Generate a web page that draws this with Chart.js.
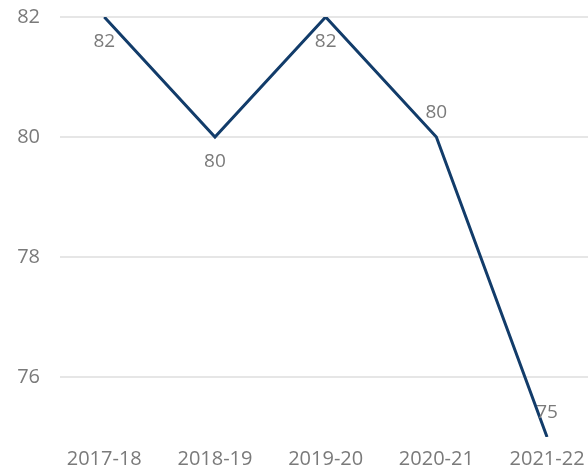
<!DOCTYPE html>
<html lang="en">
  <head>
    <meta charset="UTF-8" />
    <title>Chart</title>
    <style>
      html, body { margin: 0; padding: 0; background: #fff; }
      #wrap { width: 588px; height: 470px; }
    </style>
  </head>
  <body>
    <div id="wrap">
      <canvas id="myChart"></canvas>
    </div>

    <script src="https://cdn.jsdelivr.net/npm/chart.js"></script>
    <script>
      const years = ["2017-18", "2018-19", "2019-20", "2020-21", "2021-22"];
      const values = [82, 80, 82, 80, 75];
      const labelSide = ["below", "below", "below", "above", "above"];
      const yTicks = [76, 78, 80, 82];

      const textColor = "#7a7a7a";
      const fontFamily = "'Open Sans', 'Noto Sans', sans-serif";

      const valueLabels = {
        id: "valueLabels",
        afterDatasetsDraw(chart) {
          const ctx = chart.ctx;
          const meta = chart.getDatasetMeta(0);
          ctx.save();
          ctx.font = "19px " + fontFamily;
          ctx.fillStyle = textColor;
          ctx.textAlign = "center";
          ctx.textBaseline = "middle";
          meta.data.forEach((pt, i) => {
            const dy = labelSide[i] === "above" ? -24 : 25;
            ctx.fillText(String(values[i]), pt.x, pt.y + dy);
          });
          ctx.restore();
        },
      };

      const config = {
        type: "line",
        data: {
          datasets: [
            {
              data: values.map((v, i) => ({ x: i, y: v })),
              borderColor: "#123c6a",
              borderWidth: 3,
              pointRadius: 0,
              tension: 0,
            },
          ],
        },
        options: {
          responsive: true,
          maintainAspectRatio: false,
          animation: false,
          layout: { padding: 0 },
          plugins: {
            legend: { display: false },
            tooltip: { enabled: false },
          },
          scales: {
            x: {
              type: "linear",
              min: -0.4,
              max: 4.37,
              afterBuildTicks: (axis) => {
                axis.ticks = years.map((_, i) => ({ value: i }));
              },
              afterFit: (axis) => {
                axis.height = 33;
                axis.paddingLeft = 0;
                axis.paddingRight = 0;
              },
              ticks: {
                color: textColor,
                font: { family: fontFamily, size: 20 },
                maxRotation: 0,
                autoSkip: false,
                padding: 2,
                callback: (v) => years[v],
              },
              grid: { display: false },
              border: { display: false },
            },
            y: {
              min: 75,
              max: 82,
              afterBuildTicks: (axis) => {
                axis.ticks = yTicks.map((v) => ({ value: v }));
              },
              afterFit: (axis) => {
                axis.width = 60;
                axis.paddingTop = 17;
                axis.paddingBottom = 0;
              },
              ticks: {
                color: textColor,
                font: { family: fontFamily, size: 20 },
                padding: 20,
              },
              grid: { color: "#e6e6e6", lineWidth: 2, drawTicks: false },
              border: { display: false },
            },
          },
        },
        plugins: [valueLabels],
      };

      const myChart = new Chart(document.getElementById("myChart"), config);
    </script>
  </body>
</html>
